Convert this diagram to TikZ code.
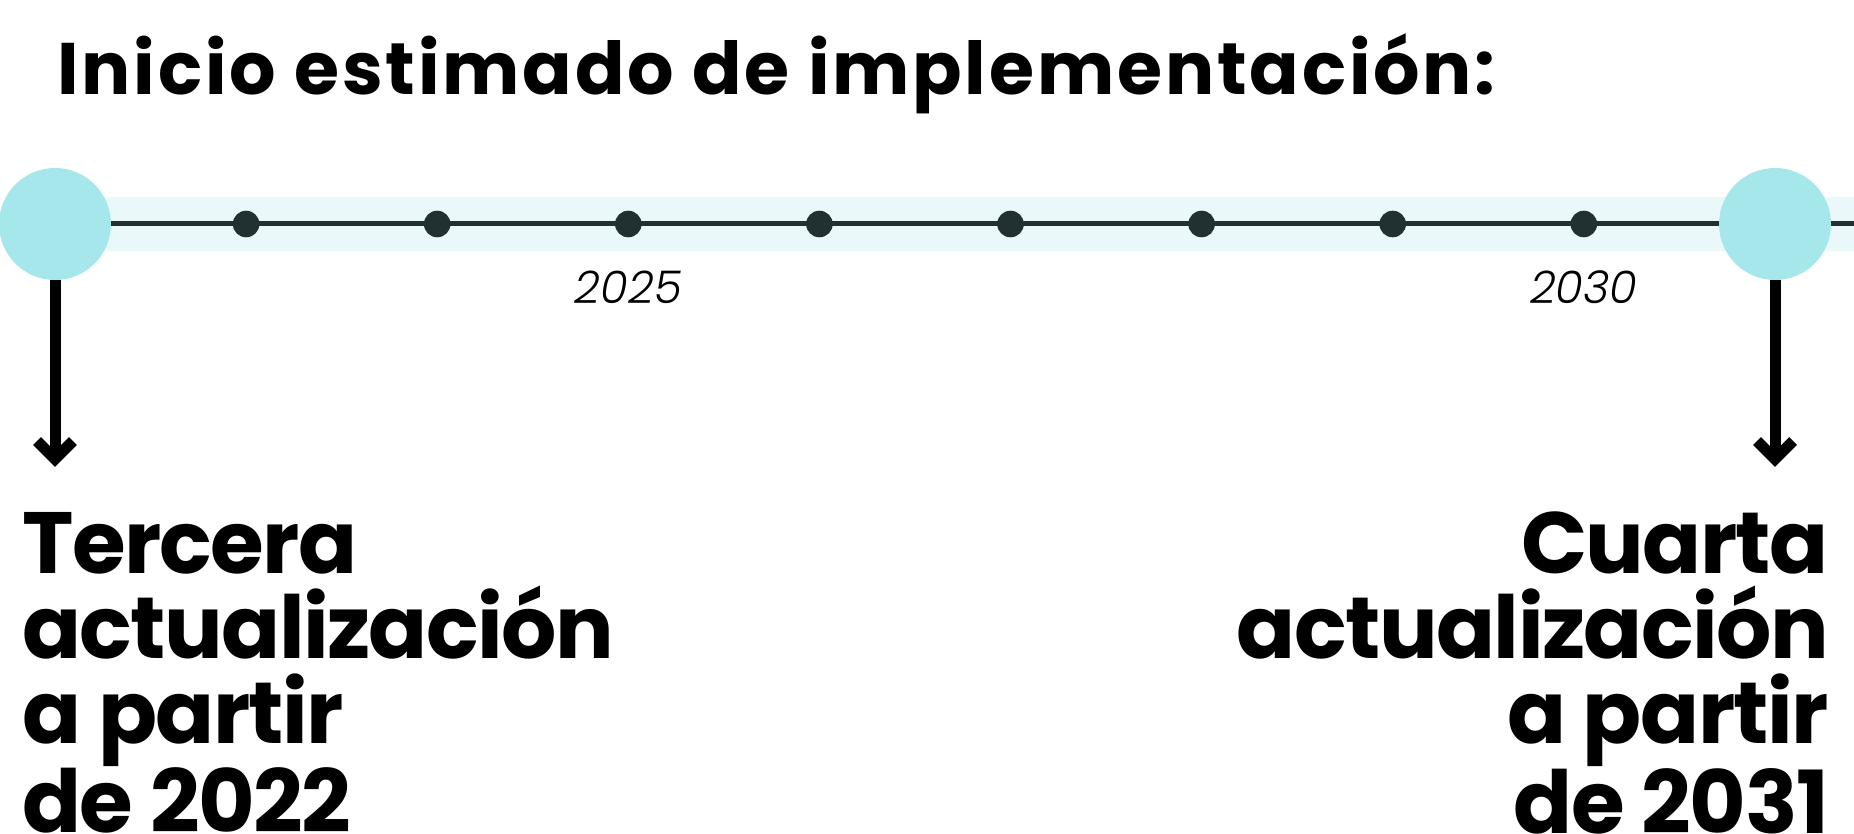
\documentclass[tikz,border=0pt]{standalone}
\usepackage{fontspec}
\setmainfont{Poppins}
\newfontfamily\titlefont{Poppins}[UprightFont={* Bold},LetterSpace=3.9]
\newfontfamily\boldfont{Poppins}[UprightFont={* Bold},LetterSpace=-1.8]
\newfontfamily\yearfont{Poppins}[UprightFont={* Light Italic}]
\usetikzlibrary{backgrounds}
\definecolor{bigc}{HTML}{A6E7EC}
\definecolor{bandc}{HTML}{EAF8F9}
\definecolor{linec}{HTML}{213030}
\tikzset{
  bigdot/.style={circle,fill=bigc,minimum size=112pt,inner sep=0pt},
  smalldot/.style={circle,fill=linec,minimum size=26.6pt,inner sep=0pt},
  yearlabel/.style={font=\yearfont\fontsize{45}{50}\selectfont,inner sep=0pt,anchor=base},
  bigtext/.style={font=\boldfont\fontsize{87}{85}\selectfont,inner sep=0pt},
  shaft/.style={line width=11pt,black},
  chevron/.style={line width=11pt,black,line join=miter,miter limit=10},
  timeline/.style={line width=5pt,linec}
}
\begin{document}
\begin{tikzpicture}[x=1pt,y=-1pt]
\useasboundingbox (0,0) rectangle (1854,834);
% title
\node[font=\titlefont\fontsize{73}{80}\selectfont,inner sep=0pt,anchor=base west] (title) at (57,95) {Inicio estimado de implementación:};
% milestones
\node[bigdot] (c0) at (55,224) {};
\node[bigdot] (c9) at (1775,224) {};
\foreach \i in {1,...,8}{
  \node[smalldot] (d\i) at ({55+\i*191.1},224) {};
}
\coordinate (lineend) at (1854,224);
\begin{scope}[on background layer]
  \fill[bandc] (55,197) rectangle (1854,251);
  \draw[timeline] (c0.center) -- (lineend);
\end{scope}
% years
\node[yearlabel] (y25) at ([yshift=-79pt]d3.center) {2025};
\node[yearlabel] (y30) at ([yshift=-79pt]d8.center) {2030};
% arrows
\coordinate (t0) at (55,459);
\coordinate (t9) at (1775,459);
\draw[shaft] (c0.south) -- (t0);
\draw[chevron] ([shift={(-18,-18)}]t0) -- (t0) -- ([shift={(18,-18)}]t0);
\draw[shaft] (c9.south) -- (t9);
\draw[chevron] ([shift={(-18,-18)}]t9) -- (t9) -- ([shift={(18,-18)}]t9);
% texts
\node[bigtext,align=left,anchor=north west] (left) at (22,512) {Tercera\\actualización\\a partir\\de 2022};
\node[bigtext,align=right,anchor=north east] (right) at (1829,512) {Cuarta\\actualización\\a partir\\de 2031};
\end{tikzpicture}
\end{document}
